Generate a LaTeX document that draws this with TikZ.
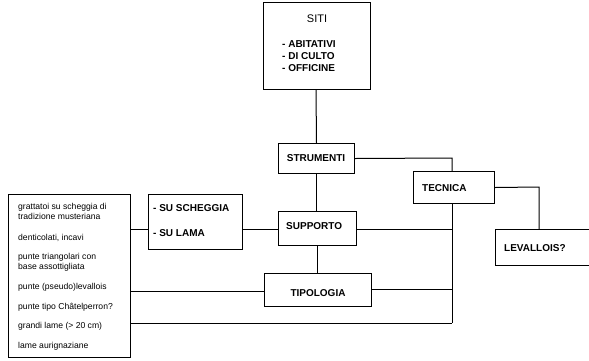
\documentclass[tikz,border=0pt]{standalone}
\usepackage{fontspec}
\setmainfont{Liberation Sans}
\begin{document}
\begin{tikzpicture}[x=1pt,y=-1pt,
  box/.style={draw,line width=1pt,rectangle,inner sep=0pt},
  conn/.style={line width=1pt},
  capb/.style={font=\fontsize{10}{12}\selectfont\bfseries,inner sep=0pt},
  small/.style={font=\fontsize{8.6}{10}\selectfont,inner sep=0pt,anchor=base west}]
\useasboundingbox (0,0) rectangle (589,360);
\clip (0,0) rectangle (589,360);
% boxes
\node[box,anchor=north west,minimum width=107,minimum height=87] (siti) at (263,2) {};
\node[box,anchor=north west,minimum width=76,minimum height=30] (strumenti) at (278,143) {};
\node[box,anchor=north west,minimum width=81,minimum height=32] (tecnica) at (413,171) {};
\node[box,anchor=north west,minimum width=100,minimum height=36] (levallois) at (495,229) {};
\node[box,anchor=north west,minimum width=78,minimum height=34] (supporto) at (278,211) {};
\node[box,anchor=north west,minimum width=107,minimum height=33] (tipologia) at (264,273) {};
\node[box,anchor=north west,minimum width=94,minimum height=55] (su) at (148,194) {};
\node[box,anchor=north west,minimum width=122,minimum height=163] (lista) at (8,194) {};
% texts
\node[font=\fontsize{11}{13}\selectfont,inner sep=0pt,anchor=base] (tsiti) at (317,22) {SITI};
\node[capb,anchor=base west] (t1) at (282,47.6) {- ABITATIVI};
\node[capb,anchor=base west] (t2) at (282,59.6) {- DI CULTO};
\node[capb,anchor=base west] (t3) at (282,71.6) {- OFFICINE};
\node[capb,anchor=base] (tstr) at (316,161.6) {STRUMENTI};
\node[capb,anchor=base west] (ttec) at (422,191.6) {TECNICA};
\node[capb,anchor=base west] (tlev) at (504,251.6) {LEVALLOIS?};
\node[capb,anchor=base west] (tsup) at (286,229.6) {SUPPORTO};
\node[capb,anchor=base] (ttip) at (318,296.6) {TIPOLOGIA};
\node[capb,anchor=base west] (tsu1) at (153,211.6) {- SU SCHEGGIA};
\node[capb,anchor=base west] (tsu2) at (153,236.6) {- SU LAMA};
\node[small] (l1) at (18,209) {grattatoi su scheggia di};
\node[small] (l2) at (18,219) {tradizione musteriana};
\node[small] (l3) at (18,240) {denticolati, incavi};
\node[small] (l4) at (18,259) {punte triangolari con};
\node[small] (l5) at (18,269) {base assottigliata};
\node[small] (l6) at (18,289) {punte (pseudo)levallois};
\node[small] (l7) at (18,309) {punte tipo Châtelperron?};
\node[small] (l8) at (18,328) {grandi lame (> 20 cm)};
\node[small] (l9) at (18,348) {lame aurignaziane};
% bend points
\coordinate (c1) at (452,158);
\coordinate (c2) at (539,187);
\coordinate (c3) at (452,323);
% connectors
\draw[conn] (siti.south -| 316,0) -- (strumenti.north);
\draw[conn] (strumenti.east) -- (c1) -- (tecnica.north -| c1);
\draw[conn] (tecnica.east) -- (c2) -- (levallois.north -| c2);
\draw[conn] (tecnica.south -| c1) -- (c3);
\draw[conn] (strumenti.south) -- (supporto.north -| strumenti.south);
\draw[conn] (supporto.east |- 0,229) -- (c1 |- 0,229);
\draw[conn] (supporto.west |- 0,229) -- (su.east |- 0,229);
\draw[conn] (su.west |- 0,229) -- (lista.east |- 0,229);
\draw[conn] (317,245) -- (tipologia.north -| 317,0);
\draw[conn] (tipologia.east |- 0,289) -- (c1 |- 0,289);
\draw[conn] (lista.east |- 0,291) -- (tipologia.west |- 0,291);
\draw[conn] (lista.east |- c3) -- (c3);
\end{tikzpicture}
\end{document}
